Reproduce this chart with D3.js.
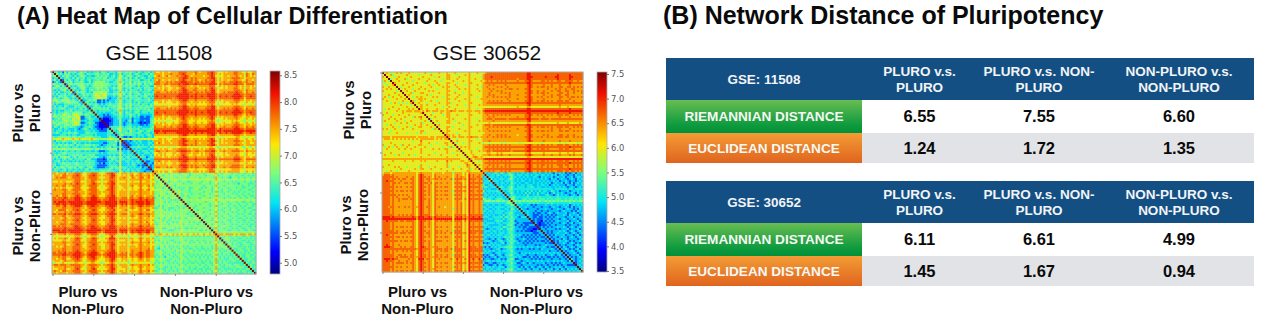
<!DOCTYPE html>
<html>
<head>
<meta charset="utf-8">
<script src="https://cdn.jsdelivr.net/npm/d3@7"></script>
<style>
  html, body { margin: 0; padding: 0; background: #fff; }
  svg { display: block; }
  text { font-family: "Liberation Sans", Arial, sans-serif; }
</style>
</head>
<body>
<div id="svg-container"></div>
<script>
////////////////////////////////////////////////////////////////////
////////////////////////////  Data  ////////////////////////////////
// heat map cells are read off the picture as colour levels 0-9.
// pluro / nonPluro: upper triangle, right of the diagonal. cross: top right block.
const levels11508 = [5.2, 5.6, 6.05, 6.4, 6.65, 6.9, 7.15, 7.5, 7.8, 8.1];
const levels30652 = [3.9, 4.3, 4.75, 5.0, 5.25, 5.55, 5.95, 6.4, 6.7, 7.05];

const pluro11508 = [
  "342315243 3423534232 3342443233 3246334353 3243233423",
  "43424342 3234432433 3443343422 3235233342 3432334243",
  "3243533 2423543232 2343434323 4236423443 2343322433",
  "323432 4243342333 3434344233 3246334252 3423432332",
  "14243 2342432342 3343343433 2345324343 3342233423",
  "3434 2333532242 3545443322 3347433352 4343343433",
  "245 3444443433 4544544433 3346424353 4354243343",
  "42 3234543323 4444544332 3246334343 3242334322",
  "3 3423453233 3454434323 4346323342 3343243433",
  "4232343234 3343443422 3235324243 3324233432",
  "243443232 4546545322 3347433343 3432333323",
  "32343433 4654565333 4346342352 3343243433",
  "3243323 4565465222 3236324343 3423344232",
  "424333 4456544212 2247333243 3343233423",
  "22343 4411212122 2335323342 3433333432",
  "3423 2311212232 2336323342 3243233323",
  "343 3432323343 3346334353 3342433243",
  "22 3433232333 4345324352 3334334343",
  "3 4344343423 3346434343 3434343423",
  "3323333332 3347323242 3342333433",
  "323232223 3236324332 3432333233",
  "32212122 3335323343 3242222223",
  "2211112 2234323252 3231121123",
  "100011 2234222231 2221111133",
  "00001 2225221341 3221121134",
  "0011 2225212231 2210101134",
  "011 2224212332 2221121233",
  "23 3335323342 3233222234",
  "3 3346333443 3342333343",
  "3236333253 3234323433",
  "234334343 3343233323",
  "24533343 3233323432",
  "4211212 3232322332",
  "554565 5655565656",
  "11212 3233222323",
  "1122 2323222332",
  "112 2232322323",
  "23 3343333243",
  "2 2323222322",
  "3232333233",
  "232233323",
  "32322232",
  "3331233",
  "222322",
  "21122",
  "1221",
  "212",
  "12",
  "2",
  ""
];
const cross11508 = [
  "7667677677 7788887777 8767778898 7566767778 8776576677",
  "7777677787 7788987776 8777778898 7676777778 8777587687",
  "6787678677 7878898767 7777677898 6566776777 8767687676",
  "7777777777 7788998787 8777778899 7676777788 8877677777",
  "7687677677 7688987787 8767787889 7576776778 8776587767",
  "7887778787 8889998887 8878788899 7677877888 9887787787",
  "8887788788 8898999888 9888888999 8687888889 9888688887",
  "6777676677 7788887767 7677777888 6576767777 8767577676",
  "7767677667 7678987777 8767677898 7566767778 8767677677",
  "7777687677 7788998778 8777787899 7677777778 8877587777",
  "7887778787 8788998887 8878788899 7677878888 9887687787",
  "8888888888 8899999888 9888889999 8788888889 9988788888",
  "8988898888 8999999898 9889889999 8798898899 9998788988",
  "8888888887 8899999888 9888888999 8788888889 9988688888",
  "7777677677 7788998777 8777778898 7576777778 8877677677",
  "6677676667 7678887767 7767677888 6566766777 8766576676",
  "6566565666 6677886676 7666667787 6465666676 7665565565",
  "7777777677 7788998777 8777778899 7677777778 8877677777",
  "7887778787 8788998878 8877788899 7677878788 9887687787",
  "8888888888 8899999888 9888889999 8788888889 9988788888",
  "8988898888 8999999898 9889889999 8798898899 9998788988",
  "8888788888 8899998888 9888888999 8788888889 9887687888",
  "7777677677 7788988777 8777778898 7576777778 8776677677",
  "6767676667 7678987767 7767677898 6566767777 8766576676",
  "5656565565 6677887666 7666667787 5465665676 7665465565",
  "6767576667 6678887667 7667667888 6566766677 8766576676",
  "7777677677 7788998777 8777778899 7676777778 8877677677",
  "8777787787 7888998878 8877788899 7677877788 9877687787",
  "8888888888 8899999888 9888889999 8798888889 9988788888",
  "9998999999 9999999989 9999999999 8998999999 9999899999",
  "8988898888 8999999898 9889889999 8798898899 9998788988",
  "7777777777 7788998777 8777778899 7677777778 8877677777",
  "5666666566 6677776666 6666667777 5565666666 7765565665",
  "6677676667 7778987767 7767677898 6576767777 8766576676",
  "7777677677 7788998777 8777778899 7576777778 8877677677",
  "7687677767 7788987777 8767777898 6576767777 8776577667",
  "7777777777 7788998787 8777778899 7677777778 8877677777",
  "5656565565 5667776565 6565566776 5455655665 6664465465",
  "7767677667 7788887767 7767677888 6576767777 8766576676",
  "7887778777 7889998877 8877788899 7677877788 8877687777",
  "6677676667 7678887767 7767677888 6566767777 7766576676",
  "6767576667 6778987667 7667677898 6566766777 8766576666",
  "7777677677 7788998777 8777778899 7576777778 8877677677",
  "8888888888 8899999888 9888889999 8788888889 9987688888",
  "7787677677 7788998777 8777778898 7576777778 8877677677",
  "6767676667 7678887767 7767677888 6566767777 7766576676",
  "7777777677 7789998787 8777878899 7677777788 8877677777",
  "7887778787 7788998787 8877788899 7677877888 8877687787",
  "6666566566 6778887666 7666667887 5565666677 7765566665",
  "7767677667 7788887767 7767677888 6576767777 7766576676"
];
const nonPluro11508 = [
  "454544354 4434544344 4544345454 7443454434 4344344434",
  "45345454 4544454345 4445434454 6344544344 3443443434",
  "4544454 4354443454 4534445443 7443443244 4344344344",
  "455455 5545555555 5555555555 7555455455 5455455455",
  "45344 5434443344 4543445344 6444344434 3444344343",
  "3454 4454344435 4434544344 6344543443 4244443334",
  "544 3544544454 4454345444 7444345444 4443443443",
  "35 4434345334 4543434534 6344443444 3443344434",
  "4 4453444344 5434454434 6443544344 4434443344",
  "5454444344 4454344534 7343443443 4344344434",
  "453454434 4434454344 6444354434 3443443444",
  "44353444 4544345444 7344443454 4344344334",
  "3544344 4434544344 6444344343 4434434443",
  "454554 5545555555 7555455555 5555455455",
  "44344 4454434454 6344543444 3443344344",
  "3454 4534454344 6443444344 4344434433",
  "444 3444544344 7344543443 4434344434",
  "53 4454344454 6444344344 3443443344",
  "4 4344544344 6343444354 4344344433",
  "4454344454 7444354434 3444344344",
  "354445344 6344443444 4343443343",
  "45434454 7443544344 3444344434",
  "4344534 6344344434 4334434343",
  "454434 6444543344 3443344334",
  "34454 7343444344 4344343443",
  "4534 6444344434 3443434334",
  "445 6344544344 4334443343",
  "43 7444344434 3443344344",
  "4 6344443344 4344334433",
  "7444544454 5444544454",
  "777677776 7677767767",
  "44354344 3443344334",
  "3454434 4334434343",
  "445343 3443343434",
  "34434 4334433344",
  "4534 3433444334",
  "344 4334343343",
  "43 3443344343",
  "4 3344334334",
  "4434343443",
  "343344334",
  "43344343",
  "4334433",
  "334343",
  "43344",
  "3433",
  "434",
  "33",
  "3",
  ""
];

const pluro30652 = [
  "676566767 6667666666 6766566676 6676667666 6667666766",
  "66756666 6676666656 6666766666 6677666566 6767666666",
  "6665676 6666766666 7666665676 6677666676 6667666665",
  "566766 6756666676 6667666666 5677666766 6667667666",
  "66676 6666656666 6676667665 6666676666 7667666667",
  "7666 6676666766 6566666766 6677666566 6667766666",
  "666 7666676666 6667656676 6676667666 6567666766",
  "65 6667666667 6666766666 7677666766 6667666665",
  "6 6766656676 6766666566 6676666676 6767666766",
  "6676667666 6667676666 6677665666 6667666676",
  "666756666 7666666676 6676667666 5667666666",
  "67666666 6676566666 6677666676 6667766666",
  "6656766 6666676766 5676666766 6667666566",
  "666676 6766666666 6677667666 6767666667",
  "75666 6666766566 6676666676 6667666666",
  "6676 6656666676 6677566666 6667766666",
  "665 6676667666 6676666766 6567666676",
  "66 6666666666 5667666666 6667666666",
  "6 6676666766 6676667666 6667666566",
  "7677767776 7687677767 7677877677 7677767776",
  "666656667 6677666666 6667666676",
  "66766666 5677666766 6667766666",
  "6667666 6677666666 6667666666",
  "566666 6667676666 6767666566",
  "66766 6677665666 6667666676",
  "6656 6677666676 6667666666",
  "676 6666666666 5667666766",
  "66 6677656666 6667766666",
  "6 6676666676 6667666666",
  "6677666666 6767666676",
  "676666566 6667666666",
  "77676676 6667666666",
  "7677677 7677877767",
  "666566 6667666566",
  "66766 6667766666",
  "6566 5667666676",
  "666 6667666666",
  "67 6767666666",
  "6 6667666566",
  "6666766676",
  "666766666",
  "66676666",
  "6678767",
  "767777",
  "66656",
  "6666",
  "676",
  "66",
  "6",
  ""
];
const cross30652 = [
  "6788888888 8888888888 8899888888 8888888888 8888888888",
  "7888888888 8888888888 8899888888 8888888988 8889888888",
  "7888988888 8888888888 8899988888 8988889988 8889988888",
  "7888888888 8888888788 8899888888 8888888988 8889888888",
  "6787877878 7877777877 7889877778 8787877887 7888877877",
  "7888888888 8888888888 8899888888 8888888888 8889888888",
  "7778787777 7877777777 7789877777 8777877787 7778777777",
  "7787777878 7787777777 7789877878 8787877788 7788787878",
  "7778787777 7878877877 7889777777 7787778787 7877887777",
  "7777877878 7777777777 7789877877 8777877887 7887787878",
  "7778777778 7878777777 7889877878 8787777788 7787787778",
  "7778787777 7778777877 7789777777 8777877887 7887777777",
  "7787787878 7878777777 7889877878 7787877788 7787887878",
  "7777777777 7787777877 7789877777 8777777787 7778777777",
  "7778787878 7778777777 7889877878 8787877888 7887787778",
  "7788888888 8888888888 8899888888 8888888888 8888888888",
  "7777777777 7777777777 7789777777 7777777787 7777777777",
  "6666666666 6666666766 6677666666 6666666676 6676666666",
  "7888888888 8888888888 8899888888 8888888888 8889888888",
  "8999999999 9999999999 9999999999 9999999999 9999999999",
  "7888888888 8888888888 8899888888 8888888988 8889888888",
  "7787787878 7878777777 7889877878 7787877888 7887787878",
  "7778787777 7777777877 7889777777 8777777787 7778777777",
  "7788878888 8878888888 8899888878 8887888888 8888888888",
  "7777787777 7777777777 7789777777 7777777777 7777777777",
  "6667666666 6666666666 6677666666 6666666766 6676666676",
  "7888788888 8888888888 8899888888 8888888888 8888888888",
  "7778787878 7878777777 7889877878 8787877888 7887787878",
  "7787777777 7777777877 7789777777 7777877787 7778777777",
  "7778787878 7878777777 7889877878 8787877788 7887787878",
  "6777777777 7777777777 7789777777 7777777777 7777777777",
  "7778777878 7877777677 7789877777 8787777788 7787787777",
  "7787787878 7878777777 7889877878 7787877888 7887787878",
  "7777777777 7777777777 7789777777 7777777777 7777777777",
  "7778777777 7777777777 7789877777 8777777787 7778777777",
  "5665666665 6566666656 6666666665 6666666656 6566666566",
  "7778787878 7878777777 7889877878 8787877888 7887787878",
  "7888888888 8888888888 8899888888 8888888888 8889888888",
  "7778787878 7878777777 7889877878 8787777788 7887787778",
  "7788788888 8888788888 8899888888 8888888888 8888888888",
  "6677666767 6666666666 6778666666 7666666676 6676676666",
  "7778777878 7778777777 7889877777 8777877787 7778787778",
  "6666666666 6666666666 6677666666 6666666666 6666666666",
  "8999999999 9999999999 9999999999 9999999999 9999999999",
  "7778787878 7878777777 7889877878 8787877888 7887787878",
  "7888888888 8888888888 8899888888 8888888888 8889888888",
  "7778787877 7878777777 7889877878 8787877888 7887787878",
  "7787787878 7878777777 7889877878 7787877788 7787787878",
  "7888888888 8888888888 8899888888 8888888888 8889888888",
  "7778787778 7878777777 7889877878 8787877888 7887887878"
];
const nonPluro30652 = [
  "323234325 3235332323 3232233232 2323213232 3121231323",
  "32332432 3334532333 2332323323 3232323123 2212213223",
  "3332323 2323533232 3232233213 2322312322 3122312332",
  "423233 3234532323 2323232323 2321323123 2212321323",
  "33323 2333432323 3223232232 3232232312 2321221232",
  "2323 3232533232 2332232323 2323123223 1321312323",
  "323 2323432323 3233322323 3231232322 2132213223",
  "34 3234532333 3233432332 2323223232 3212321232",
  "3 3334533333 3333333333 3333323333 3323323333",
  "3234432323 3242423242 3322432312 2231232322",
  "323532323 2424232423 3231242323 2122321323",
  "32433232 3242232422 2342212423 2321232132",
  "3453333 3343334343 3334333433 3333433343",
  "553323 4434344344 4343434443 3434434344",
  "45454 5454545454 4545454545 4545454455",
  "4343 3334343433 3343433333 3334333333",
  "323 2232121222 2322322322 3231232323",
  "32 2322212221 2221232212 2321312232",
  "3 2212222122 2322122322 1232212132",
  "3232221221 2212222212 3222121322",
  "232212112 2123212322 2312232123",
  "32211121 2212121222 3213222312",
  "2211211 2121212322 2122312232",
  "212111 2212122212 3212232123",
  "12110 2121212322 2231222312",
  "2101 1212122212 3212312232",
  "101 1121221222 2121222123",
  "12 1212122322 3212321232",
  "2 2122221212 2231222312",
  "2212122232 3212321232",
  "212122322 2321232123",
  "21213222 3122212312",
  "2122123 2212321232",
  "212221 3212222123",
  "12132 2321212232",
  "2122 3212321212",
  "212 2122212323",
  "21 3212321232",
  "2 2321212312",
  "2122321232",
  "212232123",
  "21222312",
  "2121232",
  "321223",
  "21232",
  "1223",
  "232",
  "23",
  "3",
  ""
];

const ticks11508 = [5.0, 5.5, 6.0, 6.5, 7.0, 7.5, 8.0, 8.5];
const ticks30652 = [3.5, 4.0, 4.5, 5.0, 5.5, 6.0, 6.5, 7.0, 7.5];
const cellTicks = [0, 20, 40, 60, 80];

const tableHeaders = [
  ["PLURO v.s.", "PLURO"],
  ["PLURO v.s. NON-", "PLURO"],
  ["NON-PLURO v.s.", "NON-PLURO"]
];
const distanceNames = ["RIEMANNIAN DISTANCE", "EUCLIDEAN DISTANCE"];
const distances11508 = [["6.55", "7.55", "6.60"], ["1.24", "1.72", "1.35"]];
const distances30652 = [["6.11", "6.61", "4.99"], ["1.45", "1.67", "0.94"]];

////////////////////////////////////////////////////////////////////
////////////////////////////  Init  ////////////////////////////////
const width = 1264;
const height = 322;
const svg = d3
  .select("#svg-container")
  .append("svg")
  .attr("width", width)
  .attr("height", height);

const defs = svg.append("defs");
defs
  .append("filter")
  .attr("id", "soft")
  .attr("x", "-2%")
  .attr("y", "-2%")
  .attr("width", "104%")
  .attr("height", "104%")
  .append("feGaussianBlur")
  .attr("stdDeviation", 0.5);

// jet colormap
const jetStops = [0, 0.11, 0.35, 0.5, 0.64, 0.89, 1];
const jetColors = ["#00007f", "#0000ff", "#00e5f5", "#7dff7a", "#ffe600", "#f01000", "#7f0000"];

function gradient(id, stops, colors) {
  const g = defs
    .append("linearGradient")
    .attr("id", id)
    .attr("x1", 0)
    .attr("x2", 0)
    .attr("y1", 0)
    .attr("y2", 1);
  stops.forEach((s, i) => {
    g.append("stop").attr("offset", s).attr("stop-color", colors[i]);
  });
}
gradient("jet", jetStops.map((s) => 1 - s).reverse(), jetColors.slice().reverse());
gradient("green", [0, 0.75, 1], ["#68bd52", "#0f9b3e", "#00903a"]);
gradient("orange", [0, 1], ["#f39c35", "#e0641f"]);

function parseRow(s) {
  return s.replace(/ /g, "").split("").map(Number);
}

function buildCells(pluro, cross, nonPluro, levels, top) {
  const size = 50;
  const cells = [];
  const put = (row, col, value) => {
    cells.push({ row, col, value });
    if (row !== col) cells.push({ row: col, col: row, value });
  };
  [pluro, nonPluro].forEach((block, b) => {
    block.map(parseRow).forEach((digits, i) => {
      put(i + b * size, i + b * size, top);
      digits.forEach((d, k) => {
        // digits are right aligned to the end of the block
        const j = size - digits.length + k;
        put(i + b * size, j + b * size, levels[d]);
      });
    });
  });
  cross.map(parseRow).forEach((digits, i) => {
    digits.forEach((d, j) => put(i, j + size, levels[d]));
  });
  return cells;
}

function multiline(g, lines, x, y, lineHeight, attrs) {
  lines.forEach((line, i) => {
    const t = g
      .append("text")
      .attr("x", x)
      .attr("y", y + i * lineHeight)
      .attr("text-anchor", "middle")
      .text(line);
    Object.entries(attrs).forEach(([k, v]) => t.style(k, v));
  });
}

////////////////////////////////////////////////////////////////////
////////////////////////////  Heat maps  ///////////////////////////
function drawHeatMap(cfg) {
  const g = svg.append("g");
  const x = d3.scaleBand().domain(d3.range(100)).range(cfg.xRange);
  const y = d3.scaleBand().domain(d3.range(100)).range(cfg.yRange);
  const color = d3
    .scaleLinear()
    .domain(jetStops.map((s) => cfg.domain[0] + s * (cfg.domain[1] - cfg.domain[0])))
    .range(jetColors)
    .clamp(true);

  g.append("g")
    .attr("filter", "url(#soft)")
    .selectAll("rect")
    .data(cfg.cells)
    .join("rect")
    .attr("x", (d) => x(d.col))
    .attr("y", (d) => y(d.row))
    .attr("width", x.bandwidth() + 0.3)
    .attr("height", y.bandwidth() + 0.3)
    .attr("fill", (d) => color(d.value));

  g.append("rect")
    .attr("x", cfg.xRange[0])
    .attr("y", cfg.yRange[0])
    .attr("width", cfg.xRange[1] - cfg.xRange[0])
    .attr("height", cfg.yRange[1] - cfg.yRange[0])
    .attr("fill", "none")
    .attr("stroke", "#a8a8a8")
    .attr("stroke-width", 1);

  const xAxis = d3.axisBottom(x).tickValues(cellTicks).tickSize(2).tickFormat("");
  const yAxis = d3.axisLeft(y).tickValues(cellTicks).tickSize(2).tickFormat("");
  const xg = g
    .append("g")
    .attr("transform", `translate(0, ${cfg.yRange[1]})`)
    .call(xAxis);
  const yg = g
    .append("g")
    .attr("transform", `translate(${cfg.xRange[0]}, 0)`)
    .call(yAxis);
  [xg, yg].forEach((a) => {
    a.select(".domain").remove();
    a.selectAll("line").attr("stroke", "#888");
  });

  // colorbar
  const barScale = d3.scaleLinear().domain(cfg.domain).range(cfg.yRange.slice().reverse());
  g.append("rect")
    .attr("x", cfg.barX)
    .attr("y", cfg.yRange[0])
    .attr("width", cfg.barWidth)
    .attr("height", cfg.yRange[1] - cfg.yRange[0])
    .attr("fill", "url(#jet)")
    .attr("stroke", "#aaa")
    .attr("stroke-width", 0.8);
  const barAxis = d3
    .axisRight(barScale)
    .tickValues(cfg.ticks)
    .tickSize(2)
    .tickPadding(2)
    .tickFormat(d3.format(".1f"));
  const bg = g
    .append("g")
    .attr("transform", `translate(${cfg.barX + cfg.barWidth}, 0)`)
    .call(barAxis);
  bg.select(".domain").remove();
  bg.selectAll("line").attr("stroke", "#777");
  bg.selectAll("text")
    .style("font-family", "'DejaVu Sans'")
    .style("font-size", "8.4px")
    .attr("fill", "#555");

  // titles and block labels
  const labelStyle = { "font-size": "15px", "font-weight": "bold", fill: "#111" };
  multiline(g, [cfg.title], cfg.titleX, 60, 0, { "font-size": "21px", fill: "#111" });
  multiline(g, ["Pluro vs", "Non-Pluro"], cfg.labelX[0], 296.5, 17.3, labelStyle);
  multiline(g, ["Non-Pluro vs", "Non-Pluro"], cfg.labelX[1], 296.5, 17.3, labelStyle);

  const side = [
    { lines: ["Pluro vs", "Pluro"], y: cfg.sideY[0], x: cfg.sideX[0] },
    { lines: ["Pluro vs", "Non-Pluro"], y: cfg.sideY[1], x: cfg.sideX[1] }
  ];
  side.forEach((s) => {
    const sg = g.append("g").attr("transform", `translate(${s.x}, ${s.y}) rotate(-90)`);
    multiline(sg, s.lines, 0, 0, 17.3, labelStyle);
  });
}

drawHeatMap({
  title: "GSE 11508",
  titleX: 159,
  cells: buildCells(pluro11508, cross11508, nonPluro11508, levels11508, 8.58),
  domain: [4.79, 8.58],
  ticks: ticks11508,
  xRange: [52, 256],
  yRange: [71, 274],
  barX: 270,
  barWidth: 10,
  labelX: [88, 206.5],
  sideX: [23, 23],
  sideY: [113, 226]
});

drawHeatMap({
  title: "GSE 30652",
  titleX: 487,
  cells: buildCells(pluro30652, cross30652, nonPluro30652, levels30652, 7.54),
  domain: [3.48, 7.54],
  ticks: ticks30652,
  xRange: [382, 583],
  yRange: [72, 272],
  barX: 597,
  barWidth: 10,
  labelX: [417.5, 536.5],
  sideX: [353.5, 351],
  sideY: [110, 225]
});

////////////////////////////////////////////////////////////////////
////////////////////////////  Tables  //////////////////////////////
const columnCenters = [919.5, 1039, 1179];

function drawTable(name, values, top) {
  const g = svg.append("g").attr("transform", `translate(0, ${top})`);
  const left = 666;
  const right = 1254;
  const split = 862;
  const rows = [
    { y: 42, h: 33, fill: "url(#green)" },
    { y: 75, h: 30, fill: "url(#orange)" }
  ];
  g.append("rect")
    .attr("x", left)
    .attr("y", 0)
    .attr("width", right - left)
    .attr("height", 42)
    .attr("fill", "#134f83");
  g.append("rect")
    .attr("x", split)
    .attr("y", rows[1].y)
    .attr("width", right - split)
    .attr("height", rows[1].h)
    .attr("fill", "#e2e3e7");

  const headStyle = { "font-size": "13.5px", "font-weight": "bold", fill: "#f2f4f7" };
  multiline(g, [name], 764, 26, 0, { ...headStyle, "font-size": "13.4px" });
  tableHeaders.forEach((lines, i) => {
    multiline(g, lines, columnCenters[i], 18, 16, headStyle);
  });

  rows.forEach((r, i) => {
    g.append("rect")
      .attr("x", left)
      .attr("y", r.y)
      .attr("width", split - left)
      .attr("height", r.h)
      .attr("fill", r.fill);
    multiline(g, [distanceNames[i]], 764, r.y + r.h / 2 + 4.6, 0, {
      "font-size": "13.6px",
      "font-weight": "bold",
      fill: "#f6f8f4"
    });
    values[i].forEach((v, j) => {
      multiline(g, [v], columnCenters[j], r.y + r.h / 2 + 5.6, 0, {
        "font-size": "16.5px",
        "font-weight": "bold",
        fill: "#0a0a0a"
      });
    });
  });
}

drawTable("GSE: 11508", distances11508, 58);
drawTable("GSE: 30652", distances30652, 181);

////////////////////////////////////////////////////////////////////
////////////////////////////  Headings  ////////////////////////////
svg
  .append("text")
  .attr("x", 17)
  .attr("y", 24)
  .style("font-size", "23.5px")
  .style("font-weight", "bold")
  .style("fill", "#0a0a0a")
  .text("(A) Heat Map of Cellular Differentiation");
svg
  .append("text")
  .attr("x", 663)
  .attr("y", 24)
  .style("font-size", "25px")
  .style("font-weight", "bold")
  .style("fill", "#0a0a0a")
  .text("(B) Network Distance of Pluripotency");
</script>
</body>
</html>
